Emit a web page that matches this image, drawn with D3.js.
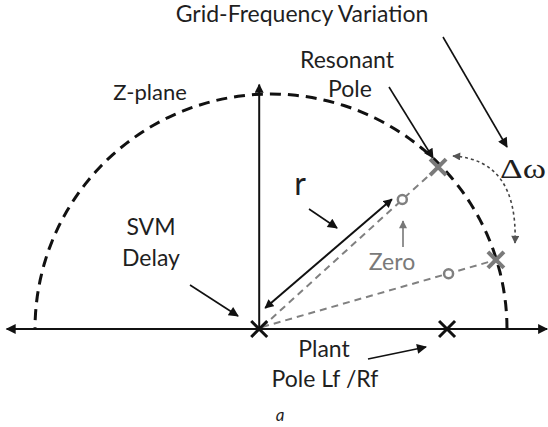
<!DOCTYPE html>
<html>
<head>
<meta charset="utf-8">
<script src="https://cdn.jsdelivr.net/npm/d3@7"></script>
<style>
  body { margin: 0; background: #fff; }
  svg text { font-family: Lato, "Open Sans", sans-serif; fill: #1a1a1a; }
</style>
</head>
<body>
<div id="chart"></div>
<script>
// z-plane values (real, imag), unit circle centred at 0
var realAxis = [-1.12, 1.17];
var imagAxisTop = 1.04;
var svmPole = [-0.05, 0];          // SVM delay pole
var plantPole = [0.746, 0];        // plant pole Lf/Rf
var resonantPoles = [[0.708, 0.689], [0.953, 0.294]];
var zeroFraction = [0.8, 0.8];     // zero sits along origin->pole line

var width = 548, height = 427;

var svg = d3.select('#chart').append('svg')
  .attr('width', width)
  .attr('height', height);

// scales: real axis and imag axis
var x = d3.scaleLinear().domain([-1, 1]).range([35, 507]);
var y = d3.scaleLinear().domain([0, 1]).range([329, 94]);

// arrow markers
var defs = svg.append('defs');
function marker(id, color, w, h) {
  defs.append('marker')
    .attr('id', id)
    .attr('viewBox', '0 -5 10 10')
    .attr('refX', 9).attr('refY', 0)
    .attr('markerUnits', 'userSpaceOnUse')
    .attr('markerWidth', w).attr('markerHeight', h)
    .attr('orient', 'auto-start-reverse')
    .append('path')
    .attr('d', 'M0,-5L10,0L0,5Z')
    .attr('fill', color);
}
marker('arr', '#111', 12, 10);
marker('arrS', '#111', 10, 9);
marker('arrG', '#777', 9, 8);
marker('arrD', '#555', 9, 8);

// dashed unit circle (upper half)
var angles = d3.range(0, 181, 2).map(function(a) { return a * Math.PI / 180; });
svg.append('path')
  .datum(angles)
  .attr('fill', 'none')
  .attr('stroke', '#111')
  .attr('stroke-width', 3)
  .attr('stroke-dasharray', '11,7')
  .attr('d', d3.line()
    .x(function(a) { return x(Math.cos(a)); })
    .y(function(a) { return y(Math.sin(a)); }));

// real axis (double arrow)
svg.append('line')
  .attr('x1', x(realAxis[0])).attr('y1', y(0))
  .attr('x2', x(realAxis[1])).attr('y2', y(0))
  .attr('stroke', '#111').attr('stroke-width', 2)
  .attr('marker-start', 'url(#arr)')
  .attr('marker-end', 'url(#arr)');

// imaginary axis
svg.append('line')
  .attr('x1', x(svmPole[0])).attr('y1', y(0))
  .attr('x2', x(svmPole[0])).attr('y2', y(imagAxisTop))
  .attr('stroke', '#111').attr('stroke-width', 2)
  .attr('marker-end', 'url(#arrS)');

// gray dashed lines origin -> resonant poles
var zeros = resonantPoles.map(function(p, i) {
  var f = zeroFraction[i];
  return [svmPole[0] + f * (p[0] - svmPole[0]), f * p[1]];
});

svg.selectAll('line.ray')
  .data(resonantPoles)
  .enter().append('line')
  .attr('class', 'ray')
  .attr('x1', x(svmPole[0]) + 3).attr('y1', y(0) - 2)
  .attr('x2', function(d) { return x(d[0]); })
  .attr('y2', function(d) { return y(d[1]); })
  .attr('stroke', '#808080').attr('stroke-width', 2)
  .attr('stroke-dasharray', '7,5');

// radius r arrow (offset from the first ray)
var p0 = resonantPoles[0];
svg.append('line')
  .attr('x1', x(svmPole[0]) + 6).attr('y1', y(0) - 21)
  .attr('x2', x(svmPole[0] + 0.82 * (p0[0] - svmPole[0])) - 14)
  .attr('y2', y(0.82 * p0[1]) + 3)
  .attr('stroke', '#111').attr('stroke-width', 2)
  .attr('marker-start', 'url(#arrS)')
  .attr('marker-end', 'url(#arrS)');

// zeros
svg.selectAll('circle.zero')
  .data(zeros)
  .enter().append('circle')
  .attr('class', 'zero')
  .attr('cx', function(d) { return x(d[0]); })
  .attr('cy', function(d) { return y(d[1]); })
  .attr('r', 4.5)
  .attr('fill', '#fff')
  .attr('stroke', '#808080').attr('stroke-width', 2.5);

// pole crosses
function cross(sel, s) {
  return sel.attr('d', function(d) {
    var cx = x(d[0]), cy = y(d[1]);
    return 'M' + (cx - s) + ',' + (cy - s) + 'L' + (cx + s) + ',' + (cy + s) +
      'M' + (cx + s) + ',' + (cy - s) + 'L' + (cx - s) + ',' + (cy + s);
  });
}
cross(svg.selectAll('path.rpole').data(resonantPoles).enter().append('path'), 8)
  .attr('stroke', '#7a7a7a').attr('stroke-width', 4);
cross(svg.selectAll('path.bpole').data([svmPole, plantPole]).enter().append('path'), 8)
  .attr('stroke', '#111').attr('stroke-width', 3);

// dotted delta-omega arc
svg.append('path')
  .attr('d', 'M453,156 Q518,160 515,243')
  .attr('fill', 'none')
  .attr('stroke', '#444').attr('stroke-width', 1.6)
  .attr('stroke-dasharray', '3,3')
  .attr('marker-start', 'url(#arrD)')
  .attr('marker-end', 'url(#arrD)');

// annotation arrows
var arrows = [
  [443, 37, 507, 147],   // grid-frequency variation
  [389, 87, 433, 158],   // resonant pole
  [309, 209, 337, 228],  // r
  [190, 285, 238, 316],  // SVM delay
  [368, 359, 426, 347]   // plant pole
];
svg.selectAll('line.ann')
  .data(arrows)
  .enter().append('line')
  .attr('x1', function(d) { return d[0]; })
  .attr('y1', function(d) { return d[1]; })
  .attr('x2', function(d) { return d[2]; })
  .attr('y2', function(d) { return d[3]; })
  .attr('stroke', '#111').attr('stroke-width', 1.6)
  .attr('marker-end', 'url(#arr)');

// zero up arrow
svg.append('line')
  .attr('x1', 403).attr('y1', 247).attr('x2', 403).attr('y2', 221)
  .attr('stroke', '#777').attr('stroke-width', 1.6)
  .attr('marker-end', 'url(#arrG)');

// text labels
function label(t, px, py, size, opts) {
  opts = opts || {};
  var s = svg.append('text')
    .attr('x', px).attr('y', py)
    .attr('text-anchor', opts.anchor || 'middle')
    .style('font-size', size + 'px')
    .style('fill', opts.fill || '#1f1f1f')
    .style('font-family', opts.family || null)
    .style('font-style', opts.italic ? 'italic' : null)
    .text(t);
  if (opts.len) s.attr('textLength', opts.len).attr('lengthAdjust', 'spacingAndGlyphs');
  return s;
}
label('Grid-Frequency Variation', 302, 22, 23);
label('Resonant', 347, 68, 23);
label('Pole', 350, 97, 23);
label('Z-plane', 150, 100, 22);
label('r', 300, 195, 32);
label('SVM', 151, 235, 23);
label('Delay', 151, 266, 23);
label('Zero', 392, 270, 23, { fill: '#7a7a7a' });
label('Plant', 324, 357, 23);
label('Pole Lf /Rf', 325, 387, 23);
label('\u0394\u03c9', 523, 178, 27, { family: '"Liberation Serif", "DejaVu Serif", serif', len: 46 });
label('a', 280, 421, 17, { italic: true });
</script>
</body>
</html>
